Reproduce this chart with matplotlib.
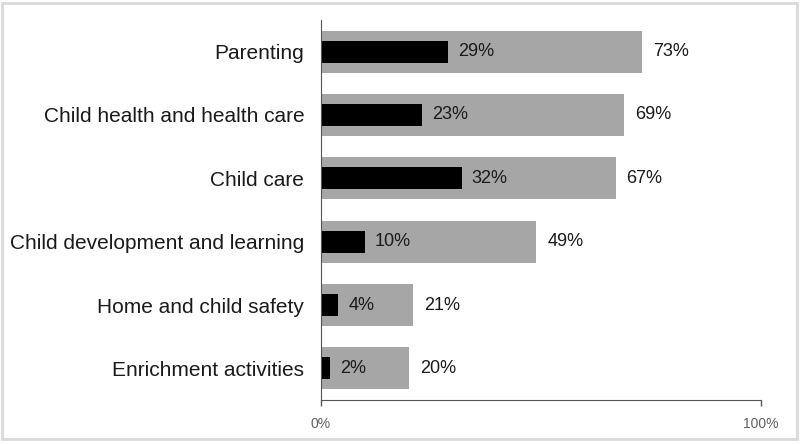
import matplotlib.pyplot as plt
from matplotlib.patches import Rectangle

# データ
categories = ["Parenting", "Child health and health care", "Child care",
              "Child development and learning", "Home and child safety",
              "Enrichment activities"]
gray_vals = [73, 69, 67, 49, 21, 20]
black_vals = [29, 23, 32, 10, 4, 2]

plt.rcParams['font.family'] = ['Liberation Sans', 'DejaVu Sans']

fig = plt.figure(figsize=(8, 4.44), dpi=100)
ax = fig.add_axes([0.401, 0.099, 0.55, 0.856])

y = list(range(len(categories)))
ax.barh(y, gray_vals, height=0.66, color="#a6a6a6")
ax.barh(y, black_vals, height=0.35, color="#000000")

# 値ラベル
for i in y:
    ax.text(gray_vals[i] + 2.5, i, f"{gray_vals[i]}%", va="center",
            ha="left", fontsize=13, color="#1a1a1a")
    ax.text(black_vals[i] + 2.3, i, f"{black_vals[i]}%", va="center",
            ha="left", fontsize=13, color="#1a1a1a")

ax.set_xlim(0, 100)
ax.set_ylim(len(categories) - 0.5, -0.5)
ax.set_yticks(y)
ax.set_yticklabels(categories, fontsize=15, color="#1a1a1a")
ax.tick_params(axis="y", length=0, pad=12)
ax.set_xticks([0, 100])
ax.set_xticklabels(["0%", "100%"], fontsize=10, color="#606060")
ax.tick_params(axis="x", length=4, width=1, color="#555555", pad=8)

for s in ["top", "right"]:
    ax.spines[s].set_visible(False)
ax.spines["left"].set_color("#555555")
ax.spines["bottom"].set_color("#555555")

# 外枠
fig.patches.append(Rectangle((0.003, 0.011), 0.993, 0.982, transform=fig.transFigure,
                             fill=False, edgecolor="#d9d9d9", linewidth=2))

fig.savefig("out.png", dpi=100)
